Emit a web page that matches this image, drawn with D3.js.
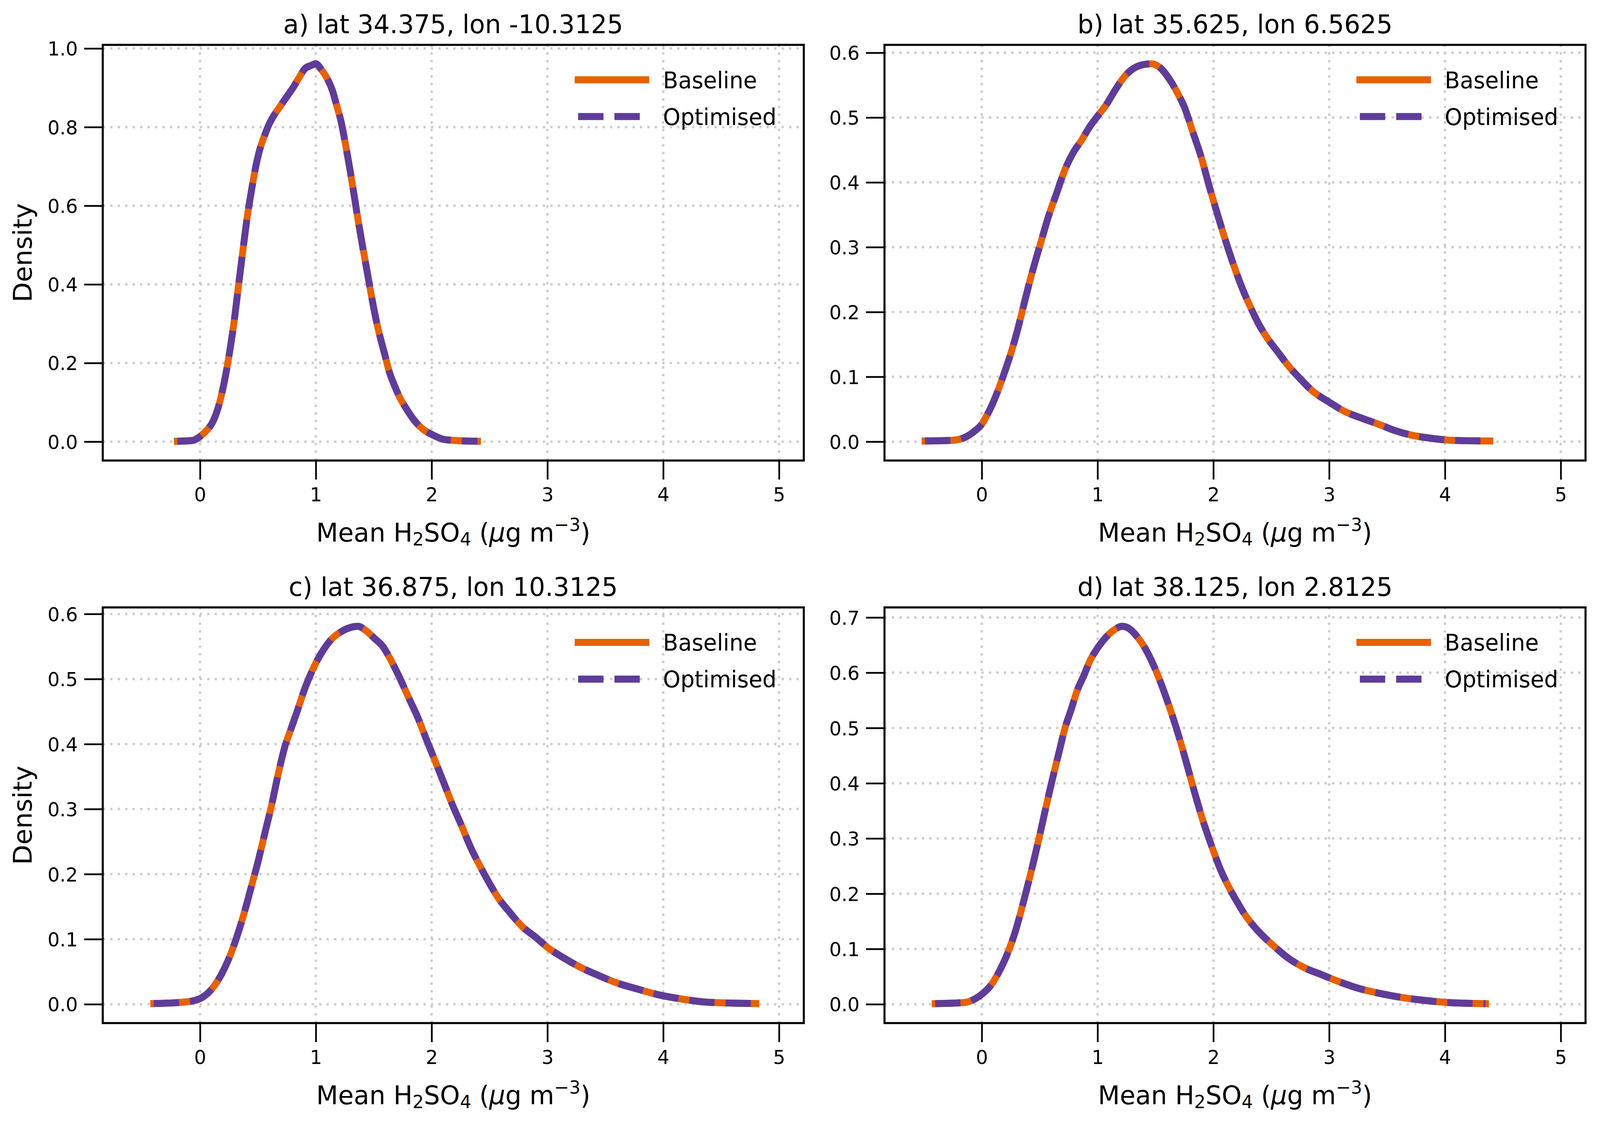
<!DOCTYPE html>
<html>
<head>
<meta charset="utf-8">
<script src="https://cdn.jsdelivr.net/npm/d3@7"></script>
<style>
html, body { margin: 0; padding: 0; background: #ffffff; overflow: hidden; width: 100%; height: 100%; }
#chart { width: 100vw; height: 100vh; }
svg { display: block; width: 100vw; height: 100vh; }
text { font-family: "DejaVu Sans", sans-serif; }
</style>
</head>
<body>
<div id="chart"></div>
<script>
// ---------------- data ----------------
const panelTitles = [
  "a) lat 34.375, lon -10.3125",
  "b) lat 35.625, lon 6.5625",
  "c) lat 36.875, lon 10.3125",
  "d) lat 38.125, lon 2.8125"
];
const seriesNames = ["Baseline", "Optimised"];
const xTicks = [0, 1, 2, 3, 4, 5];
const yTicksA = [0.0, 0.2, 0.4, 0.6, 0.8, 1.0];
const yTicksB = [0.0, 0.1, 0.2, 0.3, 0.4, 0.5, 0.6];
const yTicksC = [0.0, 0.1, 0.2, 0.3, 0.4, 0.5, 0.6];
const yTicksD = [0.0, 0.1, 0.2, 0.3, 0.4, 0.5, 0.6, 0.7];

const xA = [-0.196, -0.064, 0, 0.058, 0.106, 0.153, 0.19, 0.219, 0.256, 0.294, 0.332, 0.37, 0.407, 0.445, 0.483, 0.52, 0.558, 0.596, 0.633, 0.69, 0.746, 0.803, 0.86, 0.907, 0.954, 1.0, 1.048, 1.095, 1.142, 1.18, 1.218, 1.255, 1.293, 1.331, 1.369, 1.406, 1.444, 1.482, 1.519, 1.557, 1.595, 1.632, 1.68, 1.727, 1.783, 1.84, 1.915, 2.01, 2.10, 2.2, 2.396];
const baselineA = [0.001, 0.003, 0.013, 0.029, 0.048, 0.083, 0.125, 0.166, 0.229, 0.305, 0.396, 0.486, 0.570, 0.640, 0.702, 0.747, 0.779, 0.807, 0.827, 0.852, 0.876, 0.900, 0.928, 0.949, 0.956, 0.961, 0.946, 0.925, 0.894, 0.855, 0.814, 0.758, 0.695, 0.626, 0.556, 0.493, 0.431, 0.368, 0.312, 0.264, 0.222, 0.180, 0.142, 0.111, 0.083, 0.058, 0.034, 0.017, 0.006, 0.003, 0.001];
const optimisedA = [0.001, 0.003, 0.013, 0.029, 0.048, 0.083, 0.125, 0.166, 0.229, 0.305, 0.396, 0.486, 0.570, 0.640, 0.702, 0.747, 0.779, 0.807, 0.827, 0.852, 0.876, 0.900, 0.928, 0.949, 0.956, 0.961, 0.946, 0.925, 0.894, 0.855, 0.814, 0.758, 0.695, 0.626, 0.556, 0.493, 0.431, 0.368, 0.312, 0.264, 0.222, 0.180, 0.142, 0.111, 0.083, 0.058, 0.034, 0.017, 0.006, 0.003, 0.001];

const xB = [-0.49, -0.26, -0.153, -0.064, 0, 0.043, 0.114, 0.185, 0.256, 0.31, 0.363, 0.417, 0.47, 0.524, 0.577, 0.648, 0.719, 0.79, 0.862, 0.933, 1.004, 1.076, 1.147, 1.218, 1.289, 1.378, 1.467, 1.539, 1.61, 1.681, 1.752, 1.824, 1.895, 1.966, 2.037, 2.109, 2.18, 2.251, 2.322, 2.393, 2.465, 2.554, 2.643, 2.75, 2.857, 3.0, 3.141, 3.284, 3.426, 3.569, 3.711, 3.89, 4.068, 4.388];
const baselineB = [0.001, 0.002, 0.006, 0.016, 0.027, 0.040, 0.067, 0.101, 0.139, 0.173, 0.211, 0.249, 0.283, 0.316, 0.348, 0.384, 0.420, 0.446, 0.465, 0.486, 0.503, 0.520, 0.541, 0.560, 0.573, 0.581, 0.583, 0.577, 0.562, 0.541, 0.515, 0.477, 0.439, 0.393, 0.350, 0.308, 0.270, 0.236, 0.207, 0.181, 0.160, 0.139, 0.118, 0.097, 0.078, 0.061, 0.046, 0.036, 0.027, 0.017, 0.010, 0.005, 0.002, 0.001];
const optimisedB = [0.001, 0.002, 0.006, 0.016, 0.027, 0.040, 0.067, 0.101, 0.139, 0.173, 0.211, 0.249, 0.283, 0.316, 0.348, 0.384, 0.420, 0.446, 0.465, 0.486, 0.503, 0.520, 0.541, 0.560, 0.573, 0.581, 0.583, 0.577, 0.562, 0.541, 0.515, 0.477, 0.439, 0.393, 0.350, 0.308, 0.270, 0.236, 0.207, 0.181, 0.160, 0.139, 0.118, 0.097, 0.078, 0.061, 0.046, 0.036, 0.027, 0.017, 0.010, 0.005, 0.002, 0.001];

const xC = [-0.40, -0.154, -0.04, 0.034, 0.109, 0.185, 0.26, 0.335, 0.392, 0.448, 0.505, 0.561, 0.618, 0.674, 0.731, 0.787, 0.844, 0.9, 0.957, 1.013, 1.07, 1.145, 1.221, 1.296, 1.364, 1.428, 1.503, 1.579, 1.654, 1.729, 1.805, 1.88, 1.955, 2.03, 2.106, 2.181, 2.257, 2.332, 2.407, 2.483, 2.577, 2.671, 2.784, 2.898, 3.01, 3.142, 3.293, 3.444, 3.595, 3.783, 3.971, 4.16, 4.386, 4.8];
const baselineC = [0.001, 0.003, 0.006, 0.012, 0.025, 0.046, 0.075, 0.113, 0.147, 0.184, 0.222, 0.264, 0.306, 0.353, 0.395, 0.424, 0.453, 0.483, 0.508, 0.529, 0.546, 0.563, 0.573, 0.579, 0.581, 0.575, 0.563, 0.550, 0.527, 0.500, 0.470, 0.441, 0.407, 0.374, 0.340, 0.306, 0.275, 0.243, 0.216, 0.191, 0.163, 0.142, 0.119, 0.103, 0.086, 0.071, 0.056, 0.044, 0.033, 0.023, 0.014, 0.008, 0.003, 0.001];
const optimisedC = [0.001, 0.003, 0.006, 0.012, 0.025, 0.046, 0.075, 0.113, 0.147, 0.184, 0.222, 0.264, 0.306, 0.353, 0.395, 0.424, 0.453, 0.483, 0.508, 0.529, 0.546, 0.563, 0.573, 0.579, 0.581, 0.575, 0.563, 0.550, 0.527, 0.500, 0.470, 0.441, 0.407, 0.374, 0.340, 0.306, 0.275, 0.243, 0.216, 0.191, 0.163, 0.142, 0.119, 0.103, 0.086, 0.071, 0.056, 0.044, 0.033, 0.023, 0.014, 0.008, 0.003, 0.001];

const xD = [-0.402, -0.153, -0.064, 0.007, 0.078, 0.15, 0.221, 0.292, 0.345, 0.399, 0.452, 0.506, 0.559, 0.613, 0.666, 0.719, 0.773, 0.826, 0.88, 0.933, 1.004, 1.076, 1.147, 1.211, 1.272, 1.343, 1.414, 1.485, 1.556, 1.627, 1.699, 1.77, 1.841, 1.912, 1.984, 2.055, 2.126, 2.197, 2.286, 2.393, 2.518, 2.643, 2.786, 2.928, 3.07, 3.248, 3.426, 3.604, 3.817, 4.03, 4.35];
const baselineD = [0.001, 0.003, 0.009, 0.019, 0.034, 0.059, 0.091, 0.133, 0.173, 0.217, 0.262, 0.311, 0.361, 0.410, 0.455, 0.500, 0.534, 0.569, 0.594, 0.621, 0.646, 0.665, 0.678, 0.684, 0.680, 0.665, 0.643, 0.613, 0.576, 0.534, 0.487, 0.435, 0.381, 0.331, 0.287, 0.247, 0.215, 0.188, 0.158, 0.131, 0.106, 0.084, 0.066, 0.054, 0.042, 0.029, 0.020, 0.013, 0.007, 0.003, 0.001];
const optimisedD = [0.001, 0.003, 0.009, 0.019, 0.034, 0.059, 0.091, 0.133, 0.173, 0.217, 0.262, 0.311, 0.361, 0.410, 0.455, 0.500, 0.534, 0.569, 0.594, 0.621, 0.646, 0.665, 0.678, 0.684, 0.680, 0.665, 0.643, 0.613, 0.576, 0.534, 0.487, 0.435, 0.381, 0.331, 0.287, 0.247, 0.215, 0.188, 0.158, 0.131, 0.106, 0.084, 0.066, 0.054, 0.042, 0.029, 0.020, 0.013, 0.007, 0.003, 0.001];

// ---------------- layout & style ----------------
const W = 4204, H = 2874;
const colLeft = [270, 2324];
const rowTop = [114.8, 1554.5];
const axW = 1842, axH = 1063.8;
const xDomain = [-0.840, 5.214];
const orange = "#e66101", purple = "#5e3c99";
const lineW = 18;
const tickLen = 48.7, tickW = 4.5, spineW = 5.4;
const tickFont = 50, labelFont = 66.7, legendFont = 58.3;

const panels = [
  { title: panelTitles[0], x: xA, base: baselineA, opt: optimisedA, yt: yTicksA, col: 0, row: 0, ylabel: true },
  { title: panelTitles[1], x: xB, base: baselineB, opt: optimisedB, yt: yTicksB, col: 1, row: 0, ylabel: false },
  { title: panelTitles[2], x: xC, base: baselineC, opt: optimisedC, yt: yTicksC, col: 0, row: 1, ylabel: true },
  { title: panelTitles[3], x: xD, base: baselineD, opt: optimisedD, yt: yTicksD, col: 1, row: 1, ylabel: false }
];

const svg = d3.select("#chart").append("svg")
  .attr("viewBox", `0 0 ${W} ${H}`)
  .attr("preserveAspectRatio", "none");
svg.append("rect").attr("width", W).attr("height", H).attr("fill", "#ffffff");

panels.forEach(p => {
  const left = colLeft[p.col], top = rowTop[p.row];
  const g = svg.append("g").attr("transform", `translate(${left},${top})`);
  const ymax = d3.max(p.base);
  const x = d3.scaleLinear().domain(xDomain).range([0, axW]);
  const y = d3.scaleLinear().domain([-0.05 * ymax, 1.05 * ymax]).range([axH, 0]);

  // grid
  const grid = g.append("g");
  grid.selectAll("line.gx").data(xTicks).join("line")
    .attr("x1", d => x(d)).attr("x2", d => x(d))
    .attr("y1", axH).attr("y2", 0)
    .attr("stroke", "#cccccc").attr("stroke-width", 6)
    .attr("stroke-dasharray", "6 13.6");
  grid.selectAll("line.gy").data(p.yt).join("line")
    .attr("x1", 0).attr("x2", axW)
    .attr("y1", d => y(d)).attr("y2", d => y(d))
    .attr("stroke", "#cccccc").attr("stroke-width", 6)
    .attr("stroke-dasharray", "6 13.6");

  // curves
  const line = d3.line()
    .x((d, i) => x(p.x[i]))
    .y(d => y(d))
    .curve(d3.curveMonotoneX);
  g.append("path").attr("d", line(p.base))
    .attr("fill", "none").attr("stroke", orange).attr("stroke-width", lineW)
    .attr("stroke-linecap", "square").attr("stroke-linejoin", "round");
  g.append("path").attr("d", line(p.opt))
    .attr("fill", "none").attr("stroke", purple).attr("stroke-width", lineW)
    .attr("stroke-linecap", "butt").attr("stroke-linejoin", "round")
    .attr("stroke-dasharray", "66.6 28.8");

  // axes
  const xAxis = g.append("g").attr("transform", `translate(0,${axH})`)
    .call(d3.axisBottom(x).tickValues(xTicks).tickSize(tickLen).tickPadding(20.7).tickFormat(d3.format("d")));
  const yAxis = g.append("g")
    .call(d3.axisLeft(y).tickValues(p.yt).tickSize(tickLen).tickPadding(16.7).tickFormat(d3.format(".1f")));
  [xAxis, yAxis].forEach(a => {
    a.attr("font-size", tickFont).attr("font-family", "DejaVu Sans, sans-serif");
    a.select(".domain").remove();
    a.selectAll(".tick line").attr("stroke", "#000").attr("stroke-width", tickW);
    a.selectAll(".tick text").attr("fill", "#000");
  });
  yAxis.selectAll(".tick text").attr("dy", "0.36em");

  // frame
  g.append("rect").attr("x", 0).attr("y", 0).attr("width", axW).attr("height", axH)
    .attr("fill", "none").attr("stroke", "#000").attr("stroke-width", spineW);

  // title
  g.append("text").attr("x", axW / 2).attr("y", -30)
    .attr("text-anchor", "middle").attr("font-size", labelFont).attr("fill", "#000")
    .text(p.title);

  // x label with sub/superscripts
  const xl = g.append("text").attr("x", axW / 2).attr("y", axH + 207.4)
    .attr("text-anchor", "middle").attr("font-size", labelFont).attr("fill", "#000");
  const sub = labelFont * 0.7;
  xl.append("tspan").text("Mean H");
  xl.append("tspan").attr("font-size", sub).attr("dy", 10).text("2");
  xl.append("tspan").attr("dy", -10).text("SO");
  xl.append("tspan").attr("font-size", sub).attr("dy", 10).text("4");
  xl.append("tspan").attr("dy", -10).text("\u00a0(");
  xl.append("tspan").attr("font-style", "italic").text("\u03bc");
  xl.append("tspan").text("g m");
  xl.append("tspan").attr("font-size", sub).attr("dy", -27).text("\u22123");
  xl.append("tspan").attr("dy", 27).text(")");

  // y label
  if (p.ylabel) {
    g.append("text")
      .attr("transform", `translate(${83 - left},${axH / 2}) rotate(-90)`)
      .attr("text-anchor", "middle").attr("font-size", labelFont).attr("fill", "#000")
      .text("Density");
  }

  // legend
  const lg = g.append("g");
  const rows = [
    { name: seriesNames[0], color: orange, dash: null, cap: "square", yy: 89.5 },
    { name: seriesNames[1], color: purple, dash: "66.6 28.8", cap: "butt", yy: 183.5 }
  ];
  rows.forEach(r => {
    const ln = lg.append("line")
      .attr("x1", axW - 593).attr("x2", axW - 415)
      .attr("y1", r.yy).attr("y2", r.yy)
      .attr("stroke", r.color).attr("stroke-width", lineW)
      .attr("stroke-linecap", r.cap);
    if (r.dash) ln.attr("stroke-dasharray", r.dash);
    lg.append("text").attr("x", axW - 370).attr("y", r.yy + 21.3)
      .attr("font-size", legendFont).attr("fill", "#000").text(r.name);
  });
});
</script>
</body>
</html>
